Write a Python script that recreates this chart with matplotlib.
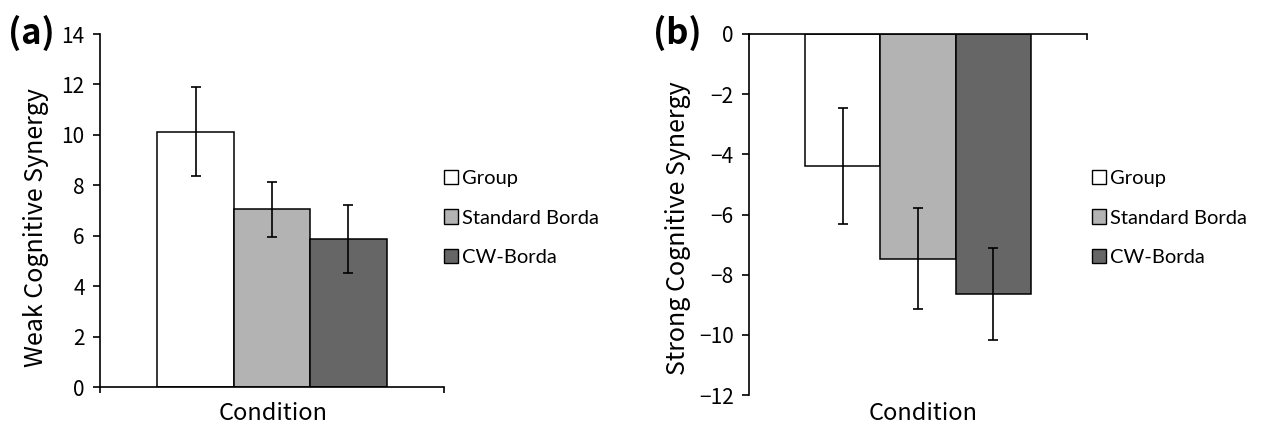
import matplotlib
matplotlib.use("Agg")
import numpy as np
from matplotlib import pyplot as plt
from matplotlib.patches import Patch

# data
conditions = ["Group", "Standard Borda", "CW-Borda"]
bar_colors = ["#ffffff", "#b3b3b3", "#666666"]
weak_mean = [10.13, 7.05, 5.87]
weak_err = [1.78, 1.09, 1.33]
strong_mean = [-4.40, -7.47, -8.63]
strong_err = [1.93, 1.67, 1.53]

W, H = 1265, 428
fig = plt.figure(figsize=(W / 100, H / 100), dpi=100)
plt.rcParams['font.family'] = ['Noto Sans CJK JP', 'DejaVu Sans']


def px(x0, y0, x1, y1):
    # pixel box (top-left origin) -> figure fraction rect
    return [x0 / W, 1 - y1 / H, (x1 - x0) / W, (y1 - y0) / H]


def draw_panel(ax, means, errs, ylim, yticks, ylabel, tag, tag_xy, ylab_xy, cond_xy, leg_xy):
    bw = 0.222
    xs = 0.5 + (np.arange(len(means)) - 1) * bw
    ax.bar(xs, means, width=bw, color=bar_colors, edgecolor='black', linewidth=1.1, zorder=2)
    ax.errorbar(xs, means, yerr=errs, fmt='none', ecolor='black', elinewidth=1.2,
                capsize=3.5, capthick=1.2, zorder=3)
    ax.set_xlim(0, 1)
    ax.set_ylim(*ylim)
    ax.set_yticks(yticks)
    ax.set_yticklabels([str(t).replace('-', '\u2212') for t in yticks])
    ax.set_xticks([0, 1])
    ax.set_xticklabels([])
    for s in ['top', 'right']:
        ax.spines[s].set_visible(False)
    ax.spines['bottom'].set_position(('data', 0))
    for s in ['left', 'bottom']:
        ax.spines[s].set_linewidth(1.2)
    ax.tick_params(axis='y', direction='out', length=5, width=1.2, pad=6, labelsize=15)
    ax.tick_params(axis='x', direction='out', length=4, width=1.2)
    ax.patch.set_alpha(0)

    fig.text(tag_xy[0] / W, 1 - tag_xy[1] / H, tag, fontsize=25, fontweight='bold',
             ha='left', va='center')
    fig.text(ylab_xy[0] / W, 1 - ylab_xy[1] / H, ylabel, fontsize=18, rotation=90,
             ha='center', va='center')
    fig.text(cond_xy[0] / W, 1 - cond_xy[1] / H, "Condition", fontsize=17,
             ha='center', va='center')

    handles = [Patch(facecolor=c, edgecolor='black', linewidth=1.0) for c in bar_colors]
    fig.legend(handles, conditions, loc='center left',
               bbox_to_anchor=(leg_xy[0] / W, 1 - leg_xy[1] / H),
               frameon=False, prop={'family': 'Lato', 'size': 14.5},
               handlelength=0.7, handleheight=0.7, handletextpad=0.2,
               labelspacing=1.1, borderpad=0, borderaxespad=0)


ax1 = fig.add_axes(px(100, 34, 444, 387))
draw_panel(ax1, weak_mean, weak_err, (0, 14), list(range(0, 15, 2)),
           "Weak Cognitive Synergy", "(a)", (8, 33), (36, 228), (273, 414), (444, 218))

ax2 = fig.add_axes(px(749, 34, 1087, 395))
draw_panel(ax2, strong_mean, strong_err, (-12, 0), list(range(-12, 1, 2)),
           "Strong Cognitive Synergy", "(b)", (653, 33), (678, 228), (923, 414), (1092, 218))

fig.savefig("out.png", dpi=100)
